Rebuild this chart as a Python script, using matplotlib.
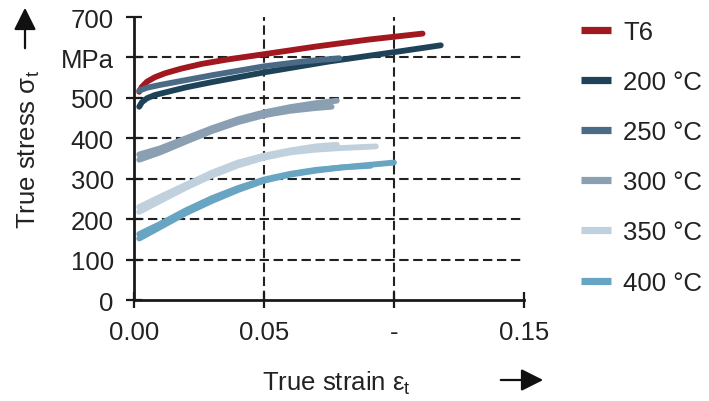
import matplotlib
matplotlib.use("Agg")
import matplotlib.pyplot as plt

plt.rcParams['font.family'] = ['Liberation Sans', 'DejaVu Sans']
plt.rcParams['mathtext.fontset'] = 'custom'
plt.rcParams['mathtext.rm'] = 'Liberation Sans'
plt.rcParams['mathtext.it'] = 'Liberation Sans:italic'

# ---- data ----
labels = ["T6", "200 °C", "250 °C", "300 °C", "350 °C", "400 °C"]
colors = ["#A1181F", "#1E4257", "#4B6A86", "#8B9FB2", "#C0D0DC", "#68A5C2"]

t6_x = [0.002, 0.003, 0.005, 0.008, 0.012, 0.018, 0.026, 0.036, 0.05, 0.07, 0.09, 0.111]
t6_y = [515, 527, 540, 551, 561, 572, 584, 595, 608, 627, 644, 659]

c200_x = [0.002, 0.003, 0.005, 0.008, 0.013, 0.02, 0.03, 0.05, 0.075, 0.1, 0.118]
c200_y = [478, 489, 499, 507, 515, 526, 539, 563, 590, 613, 630]

c250_x = [0.002, 0.005, 0.01, 0.02, 0.03, 0.05, 0.065, 0.079]
c250_y = [518, 525, 532, 544, 556, 578, 590, 598]

c300a_x = [0.002, 0.01, 0.02, 0.03, 0.04, 0.05, 0.06, 0.07, 0.078]
c300a_y = [360, 375, 400, 425, 447, 464, 477, 487, 493]
c300b_x = [0.002, 0.01, 0.02, 0.03, 0.04, 0.05, 0.06, 0.07, 0.076]
c300b_y = [347, 365, 392, 418, 440, 457, 468, 475, 478]

c350a_x = [0.002, 0.01, 0.02, 0.03, 0.04, 0.05, 0.06, 0.07, 0.078]
c350a_y = [230, 255, 285, 315, 340, 357, 370, 380, 384]
c350b_x = [0.002, 0.01, 0.02, 0.03, 0.04, 0.05, 0.06, 0.07, 0.08, 0.093]
c350b_y = [218, 245, 278, 308, 333, 352, 365, 372, 376, 380]

c400a_x = [0.002, 0.01, 0.02, 0.03, 0.04, 0.05, 0.06, 0.07, 0.08, 0.09, 0.1]
c400a_y = [152, 180, 215, 245, 272, 295, 310, 320, 328, 334, 340]
c400b_x = [0.002, 0.01, 0.02, 0.03, 0.04, 0.05, 0.06, 0.07, 0.08, 0.091]
c400b_y = [163, 188, 222, 252, 277, 298, 312, 322, 328, 332]

series = [
    [(t6_x, t6_y)],
    [(c200_x, c200_y)],
    [(c250_x, c250_y)],
    [(c300a_x, c300a_y), (c300b_x, c300b_y)],
    [(c350a_x, c350a_y), (c350b_x, c350b_y)],
    [(c400a_x, c400a_y), (c400b_x, c400b_y)],
]

xticks = [0.0, 0.05, 0.10, 0.15]
xticklabels = ["0.00", "0.05", "-", "0.15"]
yticks = [0, 100, 200, 300, 400, 500, 600, 700]
yticklabels = ["0", "100", "200", "300", "400", "500", "MPa", "700"]

FS = 18.5
TXT = '#222222'

# ---- figure ----
fig = plt.figure(figsize=(7.09, 4.02), dpi=100)
ax = fig.add_axes([0.189, 0.2512, 0.550, 0.704])

handles = []
for lab, col, specs in zip(labels, colors, series):
    h = None
    for sx, sy in specs:
        l, = ax.plot(sx, sy, color=col, lw=4.2, solid_capstyle='round',
                     solid_joinstyle='round', zorder=3)
        if h is None:
            h = l
    handles.append(h)

ax.set_xlim(0, 0.15)
ax.set_ylim(0, 700)
ax.set_xticks(xticks)
ax.set_xticklabels(xticklabels)
ax.set_yticks(yticks)
ax.set_yticklabels(yticklabels)

for s in ['top', 'right']:
    ax.spines[s].set_visible(False)
for s in ['left', 'bottom']:
    ax.spines[s].set_linewidth(2.0)
    ax.spines[s].set_color('#1a1a1a')
ax.tick_params(direction='inout', length=11, width=1.6, labelsize=FS,
               labelcolor=TXT, color='#1a1a1a')
ax.tick_params(axis='y', pad=9)
ax.tick_params(axis='x', pad=9)

# grid (dashed) at interior ticks
for yv in yticks[1:-1]:
    ax.axhline(yv, color='#222222', lw=1.5, ls=(0, (4.5, 2.2)), zorder=1)
for xv in xticks[1:-1]:
    ax.axvline(xv, color='#222222', lw=1.5, ls=(0, (4.5, 2.2)), zorder=1)

# axis labels
fig.text(29/709, 1 - 150/402, "True stress σ$_\\mathrm{t}$", rotation=90,
         ha='center', va='center', fontsize=FS, color=TXT)
fig.text(336/709, 1 - 383/402, "True strain ε$_\\mathrm{t}$",
         ha='center', va='center', fontsize=FS, color=TXT)

# arrows
fig.add_artist(matplotlib.patches.FancyArrowPatch(
    (25/709, 1 - 52/402), (25/709, 1 - 6/402), transform=fig.transFigure,
    arrowstyle='-|>,head_length=9,head_width=4.5', color='#111111', lw=1.6,
    mutation_scale=1.5))
fig.add_artist(matplotlib.patches.FancyArrowPatch(
    (498/709, 1 - 381/402), (546/709, 1 - 381/402), transform=fig.transFigure,
    arrowstyle='-|>,head_length=9,head_width=4.5', color='#111111', lw=1.6,
    mutation_scale=1.5))

# legend
leg = fig.legend(handles, labels, loc='upper left',
                 bbox_to_anchor=(581/709, 1 - 20.5/402), frameon=False,
                 fontsize=FS, handlelength=1.17, handletextpad=0.47,
                 labelspacing=1.02, borderpad=0, borderaxespad=0)
for t in leg.get_texts():
    t.set_color(TXT)
for lh in leg.legend_handles:
    lh.set_linewidth(5.2)
    lh.set_solid_capstyle('butt')

fig.savefig("out.png", dpi=100)
